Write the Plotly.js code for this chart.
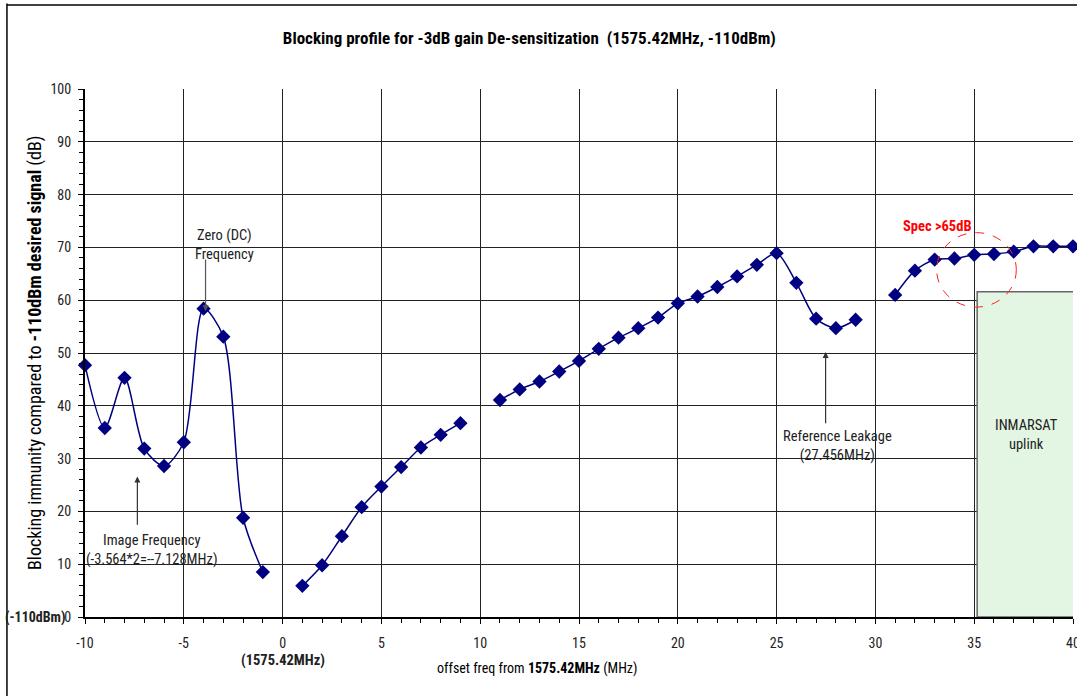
<!DOCTYPE html>
<html>
<head>
<meta charset="utf-8">
<script src="https://cdn.plot.ly/plotly-3.0.1.min.js"></script>
<style>
html,body{margin:0;padding:0;background:#fff;}
#chart{width:1077px;height:696px;}
</style>
</head>
<body>
<div id="chart"></div>
<script>
// offset frequency (MHz) from 1575.42MHz; null = not measured (gap)
const offsetMHz = [-10,-9,-8,-7,-6,-5,-4,-3,-2,-1,0,1,2,3,4,5,6,7,8,9,10,11,12,13,14,15,16,17,18,19,20,21,22,23,24,25,26,27,28,29,30,31,32,33,34,35,36,37,38,39,40];
const blockingDb = [47.7,35.8,45.3,31.9,28.6,33.1,58.4,53.1,18.8,8.5,null,5.9,9.8,15.3,20.8,24.7,28.4,32.1,34.5,36.7,null,41.1,43.1,44.6,46.5,48.5,50.8,52.9,54.7,56.7,59.4,60.7,62.5,64.5,66.7,68.9,63.3,56.5,54.7,56.3,null,61.0,65.6,67.7,67.9,68.6,68.75,69.2,70.2,70.2,70.2];
const xTicks = [-10,-5,0,5,10,15,20,25,30,35,40];
const yTicks = [0,10,20,30,40,50,60,70,80,90,100];
// INMARSAT uplink band and spec region
const inmarsatBand = {x0:35.15, x1:40.1, y0:0, y1:61.6};
const specCircle = {x0:33.1, x1:37.13, y0:58.7, y1:72.8};

const FONT = '"Liberation Sans Narrow", "Arial Narrow", "Roboto Condensed", "Liberation Sans", Arial, sans-serif';

const trace = {
  x: offsetMHz, y: blockingDb,
  type: 'scatter', mode: 'lines+markers',
  connectgaps: false, cliponaxis: false,
  line: {color: '#000080', width: 1.5, shape: 'spline', smoothing: 0.8},
  marker: {symbol: 'diamond', size: 11, color: '#000080'},
  hoverinfo: 'x+y'
};

const annFont = {family: FONT, size: 14.5, color: '#222'};

const layout = {
  width: 1077, height: 696,
  margin: {l: 85, r: 4, t: 89, b: 79},
  paper_bgcolor: '#fff', plot_bgcolor: '#fff',
  showlegend: false,
  font: {family: FONT, color: '#222', size: 14},
  title: {
    text: '<b>Blocking profile for -3dB gain De-sensitization  (1575.42MHz, -110dBm)</b>',
    font: {family: FONT, size: 17, color: '#000'},
    x: 0.4915, xanchor: 'center', y: 0.945, yanchor: 'middle'
  },
  xaxis: {
    range: [-10, 40], tickvals: xTicks, ticktext: xTicks.map(String),
    showgrid: true, gridcolor: '#222', gridwidth: 1,
    zeroline: false,
    showline: true, linecolor: '#000', linewidth: 2,
    ticks: 'outside', ticklen: 5, tickcolor: '#000',
    minor: {dtick: 1, ticks: 'outside', ticklen: 4, tickcolor: '#000', showgrid: false},
    tickfont: {family: FONT, size: 14, color: '#222'},
    ticklabelstandoff: 7,
    ticklabeloverflow: 'allow',
    fixedrange: true
  },
  yaxis: {
    range: [0, 100], tickvals: yTicks, ticktext: yTicks.map(String),
    showgrid: true, gridcolor: '#222', gridwidth: 1,
    zeroline: false,
    showline: true, linecolor: '#000', linewidth: 2,
    ticks: 'outside', ticklen: 5, tickcolor: '#000',
    minor: {dtick: 2, ticks: 'outside', ticklen: 4, tickcolor: '#000', showgrid: false},
    tickfont: {family: FONT, size: 14, color: '#222'},
    ticklabelstandoff: 4,
    fixedrange: true
  },
  shapes: [
    // chart area border
    {type: 'line', xref: 'paper', yref: 'paper', x0: -0.079, x1: -0.079, y0: -0.2, y1: 1.162, line: {color: '#000', width: 1.5}},
    {type: 'line', xref: 'paper', yref: 'paper', x0: -0.079, x1: 1.01, y0: 1.159, y1: 1.159, line: {color: '#000', width: 1.5}},
    // INMARSAT band
    {type: 'rect', xref: 'x', yref: 'y', x0: inmarsatBand.x0, x1: inmarsatBand.x1, y0: inmarsatBand.y0, y1: inmarsatBand.y1,
     fillcolor: '#e3f6e3', line: {color: '#666', width: 1.5}, layer: 'above'},
    // spec circle
    {type: 'circle', xref: 'x', yref: 'y', x0: specCircle.x0, x1: specCircle.x1, y0: specCircle.y0, y1: specCircle.y1,
     line: {color: '#ff2020', width: 1, dash: 'dash'}, layer: 'above'}
  ],
  annotations: [
    {text: 'Zero (DC)<br>Frequency', x: -2.92, y: 70.4, xref: 'x', yref: 'y', showarrow: false, font: annFont, align: 'center'},
    {text: '', x: -3.9, y: 57.9, ax: -3.9, ay: 68.0, axref: 'x', ayref: 'y', xref: 'x', yref: 'y',
     showarrow: true, arrowhead: 2, arrowsize: 1, arrowwidth: 1.2, arrowcolor: '#555'},
    {text: 'Image Frequency<br>(-3.564*2=--7.128MHz)', x: -6.61, y: 12.7, xref: 'x', yref: 'y', showarrow: false, font: annFont, align: 'center'},
    {text: '', x: -7.35, y: 26.6, ax: -7.35, ay: 17.2, axref: 'x', ayref: 'y', xref: 'x', yref: 'y',
     showarrow: true, arrowhead: 2, arrowsize: 1, arrowwidth: 1.2, arrowcolor: '#333'},
    {text: 'Reference Leakage<br>(27.456MHz)', x: 28.08, y: 32.4, xref: 'x', yref: 'y', showarrow: false, font: annFont, align: 'center'},
    {text: '', x: 27.48, y: 50.2, ax: 27.48, ay: 36.4, axref: 'x', ayref: 'y', xref: 'x', yref: 'y',
     showarrow: true, arrowhead: 2, arrowsize: 1, arrowwidth: 1.2, arrowcolor: '#333'},
    {text: 'INMARSAT<br>uplink', x: 37.65, y: 34.5, xref: 'x', yref: 'y', showarrow: false, font: annFont, align: 'center'},
    {text: '<b>Spec >65dB</b>', x: 33.13, y: 73.9, xref: 'x', yref: 'y', showarrow: false,
     font: {family: FONT, size: 14.5, color: '#ff0000'}},
    // axis titles
    {text: 'Blocking immunity compared to <b>-110dBm desired signal</b> (dB)', textangle: -90,
     x: -0.0506, y: 0.5, xref: 'paper', yref: 'paper', xanchor: 'center', yanchor: 'middle', showarrow: false,
     font: {family: FONT, size: 18, color: '#000'}},
    {text: 'offset freq from <b>1575.42MHz</b> (MHz)',
     x: 0.4575, y: -0.0966, xref: 'paper', yref: 'paper', xanchor: 'center', yanchor: 'middle', showarrow: false,
     font: {family: FONT, size: 14, color: '#000'}},
    {text: '<b>(1575.42MHz)</b>', x: 0, y: -0.083, xref: 'x', yref: 'paper', xanchor: 'center', yanchor: 'middle', showarrow: false,
     font: {family: FONT, size: 14.5, color: '#222'}},
    {text: '<b>(-110dBm)</b>', x: -0.017, y: 0, xref: 'paper', yref: 'y', xanchor: 'right', yanchor: 'middle', showarrow: false,
     font: {family: FONT, size: 14, color: '#222'}}
  ]
};

Plotly.newPlot('chart', [trace], layout, {displayModeBar: false, staticPlot: true});
</script>
</body>
</html>
